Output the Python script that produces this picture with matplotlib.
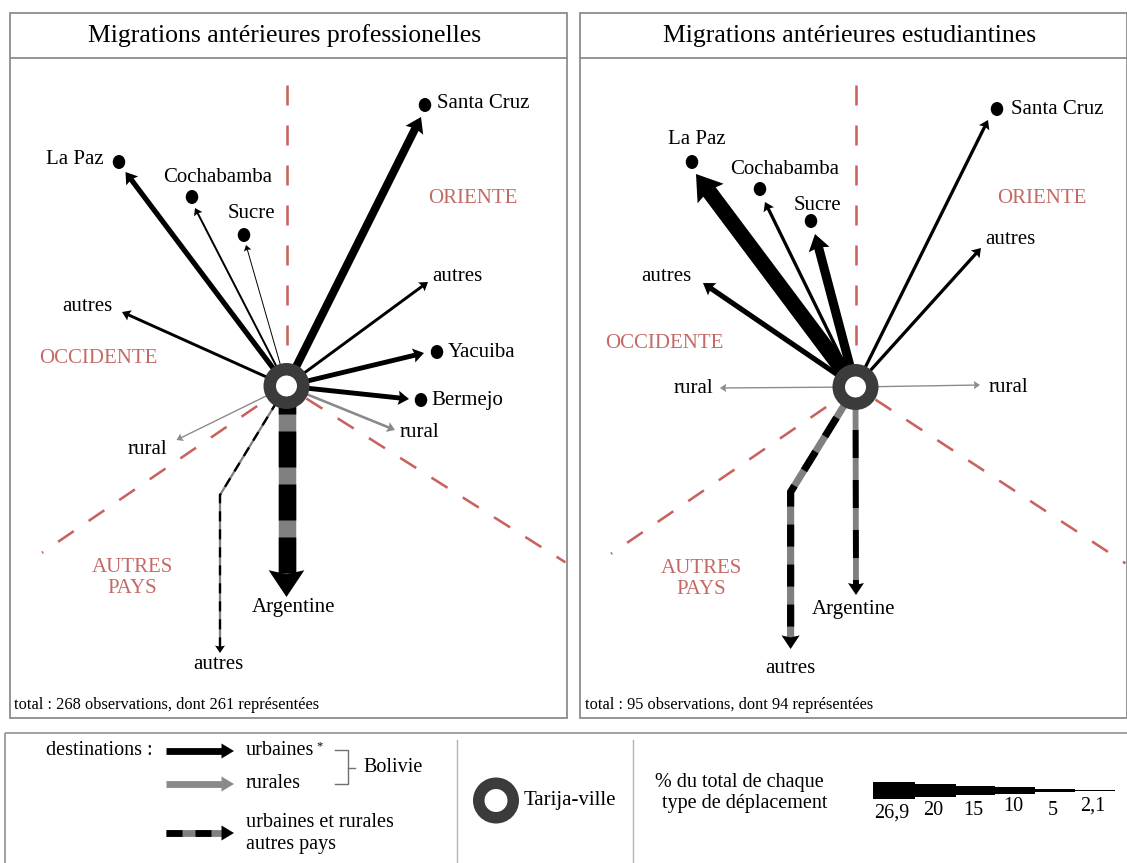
import numpy as np
import matplotlib
matplotlib.use("Agg")
import matplotlib.pyplot as plt
from matplotlib.patches import Polygon, Ellipse, Rectangle, Wedge, Circle
from matplotlib.lines import Line2D

plt.rcParams['font.family'] = ['Liberation Serif', 'DejaVu Serif']
plt.rcParams['mathtext.fontset'] = 'stix'
plt.rcParams['lines.scale_dashes'] = False

# ------------------------------------------------------------------ data
titles = ["Migrations antérieures professionelles",
          "Migrations antérieures estudiantines"]
totals = ["total : 268 observations, dont 261 représentées",
          "total : 95 observations, dont 94 représentées"]
regions = ["ORIENTE", "OCCIDENTE", "AUTRES\nPAYS"]

# panel 1 : professional migrations
pro_dest = ["Santa Cruz", "La Paz", "Cochabamba", "Sucre", "autres", "autres",
            "Yacuiba", "Bermejo", "rural", "rural", "Argentine", "autres"]
pro_type = ["urb", "urb", "urb", "urb", "urb", "urb",
            "urb", "urb", "rur", "rur", "ext", "ext"]
pro_pct = [12.5, 8.0, 3.0, 1.5, 4.5, 4.5, 7.5, 7.5, 4.0, 2.1, 26.9, 3.5]

# panel 2 : student migrations
stu_dest = ["Santa Cruz", "La Paz", "Cochabamba", "Sucre", "autres", "autres",
            "rural", "rural", "Argentine", "autres"]
stu_type = ["urb", "urb", "urb", "urb", "urb", "urb",
            "rur", "rur", "ext", "ext"]
stu_pct = [5.0, 24.0, 5.0, 14.0, 8.0, 5.0, 2.1, 2.1, 9.0, 11.0]

# legend width scale
scale_pct = [26.9, 20, 15, 10, 5, 2.1]
scale_lbl = ["26,9", "20", "15", "10", "5", "2,1"]

# ------------------------------------------------------------------ layout (pixels)
W, H = 1127, 863
PX = 0.72                       # points per pixel at 100 dpi
PX_PER_PCT = 0.65
centers = [(286.5, 386.0), (855.5, 387.0)]

pro_tip = [(421, 117), (125.5, 172), (195, 208), (246, 245), (122, 312), (428, 282),
           (424, 353), (409, 399), (395, 430), (176.5, 440), (286.5, 597), (220, 653)]
pro_bend = [None] * 11 + [(220, 495)]
pro_dot = [(425, 105), (119, 162), (192, 197), (244, 235), None, None,
           (437, 352), (421, 400), None, None, None, None]
pro_lab = [(437, 104, 'left'), (104, 160, 'right'), (218, 178, 'center'),
           (251, 213, 'center'), (87, 306, 'center'), (432, 276, 'left'),
           (448, 352, 'left'), (431, 400, 'left'), (400, 432, 'left'),
           (147, 449, 'center'), (294, 607, 'center'), (218, 664, 'center')]

stu_tip = [(988, 120), (696, 174), (765, 202), (815, 234), (703, 283), (981, 248),
           (720, 388), (980, 385), (856, 595), (790.6, 649)]
stu_bend = [None] * 9 + [(790.6, 492)]
stu_dot = [(997, 109), (692, 162), (760, 189), (811, 221), None, None,
           None, None, None, None]
stu_lab = [(1011, 109, 'left'), (697, 140, 'center'), (785, 170, 'center'),
           (817, 205, 'center'), (666, 276, 'center'), (1010, 239, 'center'),
           (693, 388, 'center'), (1008, 387, 'center'), (854, 609, 'center'),
           (790, 668, 'center')]

# stripe pattern (black on, grey off, offset) for foreign flows, pixels
stripes = {("pro", "Argentine"): (36, 17, 8), ("pro", "autres"): (10, 8, 0),
           ("stu", "Argentine"): (28, 22, 7), ("stu", "autres"): (22, 18, 4)}

region_pos = [[(473, 198), (98, 358), (132, 578)],
              [(1042, 198), (664, 343), (701, 579)]]

RED = '#c9625d'
RED_TXT = '#c46a66'
GREY = '#8a8a8a'
RING = '#3b3b3b'

fig = plt.figure(figsize=(W / 100, H / 100), dpi=100)
ax = fig.add_axes([0, 0, 1, 1])
ax.set_xlim(0, W)
ax.set_ylim(H, 0)
ax.axis('off')


def head(tip, d, hw, hl, color, notch=0.15, z=3):
    d = np.asarray(d, float)
    d = d / np.hypot(*d)
    n = np.array([-d[1], d[0]])
    tip = np.asarray(tip, float)
    base = tip - d * hl
    pts = [tip, base + n * hw / 2, tip - d * hl * (1 - notch), base - n * hw / 2]
    ax.add_patch(Polygon(pts, closed=True, facecolor=color, edgecolor='none', zorder=z))
    return tip - d * hl * (1 - notch) + d * 1.0


def flow(path, w, kind, pattern=None, z=2):
    path = [np.asarray(p, float) for p in path]
    d = path[-1] - path[-2]
    hw = 1.7 * w + 6
    hl = 0.75 * hw
    col = GREY if kind == "rur" else 'black'
    end = head(path[-1], d, hw, hl, col, z=z + 1)
    pts = np.array(path[:-1] + [end])
    if kind == "ext":
        ax.add_line(Line2D(pts[:, 0], pts[:, 1], lw=w * PX, color='#808080',
                           solid_capstyle='butt', solid_joinstyle='miter', zorder=z))
        on, off, off0 = pattern
        ax.add_line(Line2D(pts[:, 0], pts[:, 1], lw=w * PX, color='black',
                           linestyle=(off0 * PX, (on * PX, off * PX)),
                           dash_capstyle='butt', dash_joinstyle='miter', zorder=z))
    else:
        ax.add_line(Line2D(pts[:, 0], pts[:, 1], lw=w * PX, color=col,
                           solid_capstyle='butt', solid_joinstyle='miter', zorder=z))


def ring(c, ro=23, ri=10.5):
    ax.add_patch(Circle(c, ri + 0.5, facecolor='white', edgecolor='none', zorder=9))
    ax.add_patch(Wedge(c, ro, 0, 360, width=ro - ri, facecolor=RING,
                       edgecolor='none', zorder=10))


panels = [("pro", pro_dest, pro_type, pro_pct, pro_tip, pro_bend, pro_dot, pro_lab),
          ("stu", stu_dest, stu_type, stu_pct, stu_tip, stu_bend, stu_dot, stu_lab)]
boxes = [(9.5, 567.0), (580.0, 1126.5)]

for i, (key, dest, typ, pct, tips, bends, dots, labs) in enumerate(panels):
    cx, cy = centers[i]
    x0, x1 = boxes[i]
    # frame and title
    ax.add_patch(Rectangle((x0, 13.5), x1 - x0, 704.5, fill=False,
                           edgecolor='#8c8c8c', lw=1.3, zorder=1))
    ax.add_line(Line2D([x0, x1], [58, 58], color='#8c8c8c', lw=1.3, zorder=1))
    ax.text((x0 + x1) / 2 - 4, 36, titles[i], fontsize=18.5, ha='center',
            va='center', zorder=5)
    ax.text(x0 + 5, 705, totals[i], fontsize=11.8, ha='left', va='center')
    # sector separators
    ax.add_line(Line2D([cx, cx], [85, 345], color=RED, lw=2 * PX + 0.4,
                       linestyle=(0, (20 * PX, 20 * PX)), zorder=1))
    for ang, r0, r1 in [(-34.3, 35.5, 296), (32.3, 23.5, 330)]:
        sgn = -1 if ang < 0 else 1
        dx = np.cos(np.radians(abs(ang)))
        dy = np.sin(np.radians(abs(ang)))
        xa = [cx + sgn * r0 * dx, cx + sgn * r1 * dx]
        ya = [cy + r0 * dy, cy + r1 * dy]
        xa[1] = min(xa[1], x1 - 1)
        ax.add_line(Line2D(xa, ya, color=RED, lw=2 * PX + 0.4,
                           linestyle=(0, (19 * PX, 18 * PX)), zorder=1))
    for txt, (tx, ty) in zip(regions, region_pos[i]):
        ax.text(tx, ty, txt, color=RED_TXT, fontsize=15, ha='center',
                va='center', linespacing=1.2)
    # flows
    for name, t, p, tip, bend, dot, lab in zip(dest, typ, pct, tips, bends, dots, labs):
        path = [(cx, cy)] + ([bend] if bend else []) + [tip]
        flow(path, p * PX_PER_PCT, t, stripes.get((key, name)))
        if dot:
            ax.add_patch(Ellipse(dot, 12.5, 14, facecolor='black',
                                 edgecolor='none', zorder=4))
        lx, ly, ha = lab
        ax.text(lx, ly, name, fontsize=15, ha=ha, va='center', zorder=6)
    ring((cx, cy))

# ------------------------------------------------------------------ legend
ax.add_patch(Rectangle((5, 732.5), W, 140, fill=False, edgecolor='#999999',
                       lw=1.3, zorder=1))
for xv in (457, 633):
    ax.add_line(Line2D([xv, xv], [740, H], color='#b5b5b5', lw=1.0))

ax.text(153, 750, "destinations :", fontsize=14.5, ha='right', va='center')
# legend arrows
for y, kind in [(751, "urb"), (784, "rur")]:
    col = 'black' if kind == "urb" else GREY
    end = head((234, y), (1, 0), 15, 12.5, col, notch=0.0)
    ax.add_line(Line2D([166, end[0]], [y, y], lw=6.8 * PX, color=col,
                       solid_capstyle='butt'))
y = 833
end = head((234, y), (1, 0), 15, 12.5, 'black', notch=0.0)
ax.add_line(Line2D([166, end[0]], [y, y], lw=6.8 * PX, color='#808080',
                   solid_capstyle='butt'))
ax.add_line(Line2D([166, end[0]], [y, y], lw=6.8 * PX, color='black',
                   linestyle=(0, (16 * PX, 13 * PX)), dash_capstyle='butt'))

t_urb = ax.text(246, 750, "urbaines", fontsize=14.5, ha='left', va='center')
ax.text(316, 746, "*", fontsize=9, ha='left', va='center')
ax.text(246, 783, "rurales", fontsize=14.5, ha='left', va='center')
ax.text(246, 822, "urbaines et rurales", fontsize=14.5, ha='left', va='center')
ax.text(246, 844, "autres pays", fontsize=14.5, ha='left', va='center')
ax.add_line(Line2D([335, 348, 348, 335], [750, 750, 784, 784], color='#707070', lw=1.0))
ax.add_line(Line2D([348, 355], [768, 768], color='#707070', lw=1.0))
ax.text(363, 767, "Bolivie", fontsize=14.5, ha='left', va='center')

ring((496, 800.5), 23, 11.5)
ax.text(524, 800, "Tarija-ville", fontsize=15, ha='left', va='center')

ax.text(655, 782, "% du total de chaque", fontsize=14.5, ha='left', va='center')
ax.text(662, 803, "type de déplacement", fontsize=14.5, ha='left', va='center')

edges = [873, 915, 956, 995, 1035, 1075, 1115]
lbl_y = [813, 810, 810.5, 806.5, 810, 806]
for k, (p, lb) in enumerate(zip(scale_pct, scale_lbl)):
    h = p * PX_PER_PCT
    ax.add_patch(Rectangle((edges[k], 790.5 - h / 2), edges[k + 1] - edges[k], h,
                           facecolor='black', edgecolor='none'))
    ax.text((edges[k] + edges[k + 1]) / 2 - 2, lbl_y[k], lb, fontsize=14.5,
            ha='center', va='center')

fig.savefig("out.png", dpi=100)
